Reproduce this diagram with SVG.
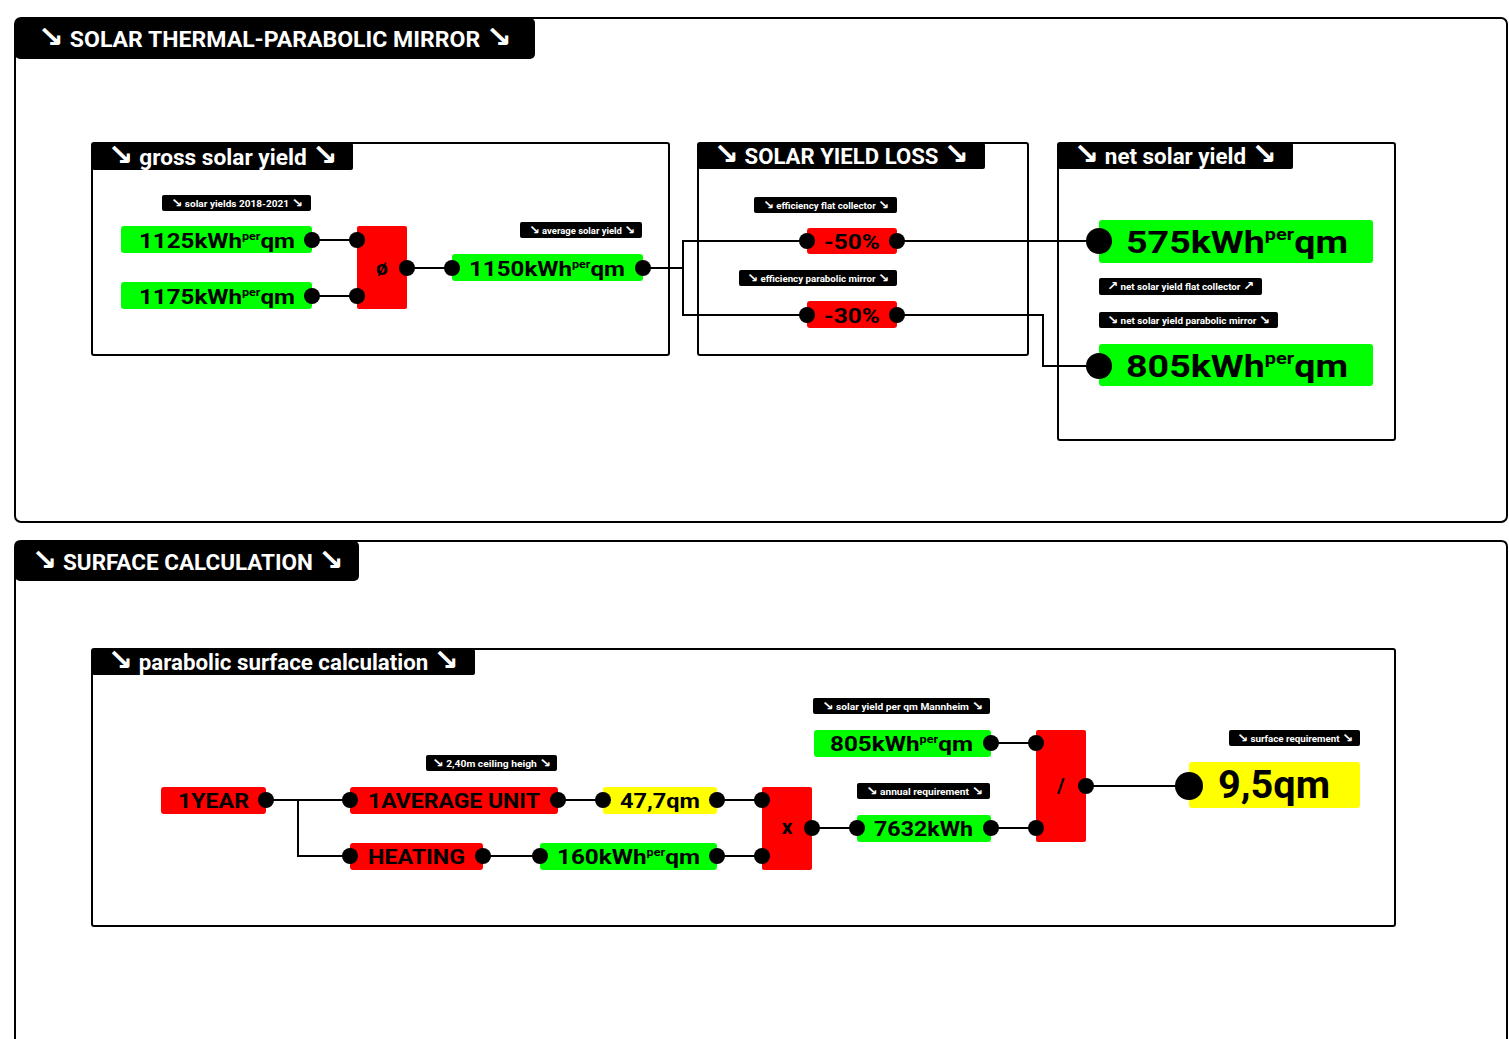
<svg xmlns="http://www.w3.org/2000/svg" width="1509" height="1039" viewBox="0 0 1509 1039">
<defs>
<style>
.frame{fill:none;stroke:#000;stroke-width:2}
.tab{fill:#000}
.tabt{fill:#fff;font-family:Roboto,"DejaVu Sans",sans-serif;font-weight:bold;font-size:22px}
.lbl{fill:#000}
.lblt{fill:#fff;font-family:Roboto,"DejaVu Sans",sans-serif;font-weight:bold;font-size:9px}
.ar{font-family:"DejaVu Sans",sans-serif;font-weight:bold;font-size:135%}
.g{fill:#00ff00}.r{fill:#ff0000}.y{fill:#ffff00}
.val{fill:#000;font-family:Roboto,"DejaVu Sans",sans-serif;font-weight:bold;font-size:21px}
.big{font-size:32px}
.huge{font-size:38px}
.sup{font-size:11px}
.supb{font-size:17px}
.port{fill:#000}
.wire{fill:none;stroke:#000;stroke-width:2}
</style>
</defs>
<rect width="1509" height="1039" fill="#fff"/>

<!-- Section 1 -->
<g id="section-solar-thermal">
<rect class="frame" x="15" y="18" width="1492" height="504" rx="6"/>
<rect class="tab" x="15" y="18" width="520" height="41" rx="5"/>
<text class="tabt" x="38" y="47" textLength="474" lengthAdjust="spacingAndGlyphs"><tspan class="ar">↘</tspan> SOLAR THERMAL-PARABOLIC MIRROR <tspan class="ar">↘</tspan></text>
</g>

<!-- Section 2 -->
<g id="section-surface">
<path class="frame" d="M15,1045 V547 Q15,541 21,541 H1501 Q1507,541 1507,547 V1045"/>
<rect class="tab" x="15" y="541" width="344" height="40" rx="5"/>
<text class="tabt" x="32" y="570" textLength="312" lengthAdjust="spacingAndGlyphs"><tspan class="ar">↘</tspan> SURFACE CALCULATION <tspan class="ar">↘</tspan></text>
</g>

<!-- Group boxes -->
<g id="box-gross">
<rect class="frame" x="92" y="143" width="577" height="212" rx="2"/>
<rect class="tab" x="92" y="143" width="261" height="27" rx="2"/>
<text class="tabt" x="108" y="165" textLength="230" lengthAdjust="spacingAndGlyphs"><tspan class="ar">↘</tspan> gross solar yield <tspan class="ar">↘</tspan></text>
</g>
<g id="box-loss">
<rect class="frame" x="698" y="143" width="330" height="212" rx="2"/>
<rect class="tab" x="698" y="143" width="287" height="26" rx="2"/>
<text class="tabt" x="714" y="164" textLength="255" lengthAdjust="spacingAndGlyphs"><tspan class="ar">↘</tspan> SOLAR YIELD LOSS <tspan class="ar">↘</tspan></text>
</g>
<g id="box-net">
<rect class="frame" x="1058" y="143" width="337" height="297" rx="2"/>
<rect class="tab" x="1058" y="143" width="235" height="26" rx="2"/>
<text class="tabt" x="1074" y="164" textLength="203" lengthAdjust="spacingAndGlyphs"><tspan class="ar">↘</tspan> net solar yield <tspan class="ar">↘</tspan></text>
</g>
<g id="box-parabolic">
<rect class="frame" x="92" y="649" width="1303" height="277" rx="2"/>
<rect class="tab" x="92" y="649" width="383" height="26" rx="2"/>
<text class="tabt" x="108" y="670" textLength="351" lengthAdjust="spacingAndGlyphs"><tspan class="ar">↘</tspan> parabolic surface calculation <tspan class="ar">↘</tspan></text>
</g>

<!-- Connectors -->
<g id="connectors">
<path class="wire" d="M312,240 H357"/>
<path class="wire" d="M312,296 H357"/>
<path class="wire" d="M407,268 H452"/>
<path class="wire" d="M643,268 H683"/>
<path class="wire" d="M807,241 H683 V315 H807"/>
<path class="wire" d="M897,241 H1099"/>
<path class="wire" d="M897,315 H1043 V366 H1099"/>
<path class="wire" d="M266,800 H350"/>
<path class="wire" d="M298,800 V856 H350"/>
<path class="wire" d="M483,856 H540"/>
<path class="wire" d="M558,800 H603"/>
<path class="wire" d="M717,800 H762"/>
<path class="wire" d="M717,856 H762"/>
<path class="wire" d="M812,828 H857"/>
<path class="wire" d="M991,743 H1036"/>
<path class="wire" d="M991,828 H1036"/>
<path class="wire" d="M1086,786 H1189"/>
</g>

<!-- Labels -->
<g id="label-solar-yields">
<rect class="lbl" x="162" y="195" width="149" height="16" rx="2"/>
<text class="lblt" x="171" y="206.5" textLength="132" lengthAdjust="spacingAndGlyphs"><tspan class="ar">↘</tspan>  solar yields 2018-2021  <tspan class="ar">↘</tspan></text>
</g>
<g id="label-average">
<rect class="lbl" x="520" y="222" width="122" height="16" rx="2"/>
<text class="lblt" x="529" y="233.5" textLength="106" lengthAdjust="spacingAndGlyphs"><tspan class="ar">↘</tspan> average solar yield <tspan class="ar">↘</tspan></text>
</g>
<g id="label-eff-flat">
<rect class="lbl" x="754" y="197" width="143" height="16" rx="2"/>
<text class="lblt" x="763" y="208.5" textLength="126" lengthAdjust="spacingAndGlyphs"><tspan class="ar">↘</tspan> efficiency flat collector <tspan class="ar">↘</tspan></text>
</g>
<g id="label-eff-parabolic">
<rect class="lbl" x="739" y="270" width="158" height="16" rx="2"/>
<text class="lblt" x="747" y="281.5" textLength="142" lengthAdjust="spacingAndGlyphs"><tspan class="ar">↘</tspan> efficiency parabolic mirror <tspan class="ar">↘</tspan></text>
</g>
<g id="label-net-flat">
<rect class="lbl" x="1099" y="278" width="163" height="17" rx="2"/>
<text class="lblt" x="1107" y="290" textLength="147" lengthAdjust="spacingAndGlyphs"><tspan class="ar">↗</tspan> net solar yield flat collector <tspan class="ar">↗</tspan></text>
</g>
<g id="label-net-parabolic">
<rect class="lbl" x="1099" y="312" width="179" height="16" rx="2"/>
<text class="lblt" x="1107" y="323.5" textLength="163" lengthAdjust="spacingAndGlyphs"><tspan class="ar">↘</tspan> net solar yield parabolic mirror <tspan class="ar">↘</tspan></text>
</g>
<g id="label-ceiling">
<rect class="lbl" x="426" y="755" width="131" height="16" rx="2"/>
<text class="lblt" x="432" y="766.5" textLength="119" lengthAdjust="spacingAndGlyphs"><tspan class="ar">↘</tspan>  2,40m ceiling heigh  <tspan class="ar">↘</tspan></text>
</g>
<g id="label-mannheim">
<rect class="lbl" x="813" y="698" width="177" height="16" rx="2"/>
<text class="lblt" x="822" y="709.5" textLength="161" lengthAdjust="spacingAndGlyphs"><tspan class="ar">↘</tspan>  solar yield per qm Mannheim  <tspan class="ar">↘</tspan></text>
</g>
<g id="label-annual">
<rect class="lbl" x="857" y="783" width="133" height="16" rx="2"/>
<text class="lblt" x="866" y="794.5" textLength="117" lengthAdjust="spacingAndGlyphs"><tspan class="ar">↘</tspan>  annual requirement  <tspan class="ar">↘</tspan></text>
</g>
<g id="label-surface">
<rect class="lbl" x="1229" y="730" width="131" height="16" rx="2"/>
<text class="lblt" x="1237" y="741.5" textLength="116" lengthAdjust="spacingAndGlyphs"><tspan class="ar">↘</tspan> surface requirement <tspan class="ar">↘</tspan></text>
</g>

<!-- Nodes: section 1 -->
<g id="node-1125">
<rect class="g" x="121" y="226" width="191" height="27" rx="3"/>
<text class="val" x="139" y="248" textLength="156" lengthAdjust="spacingAndGlyphs">1125kWh<tspan class="sup" dy="-8">per</tspan><tspan dy="8">qm</tspan></text>
<circle class="port" cx="312" cy="240" r="8"/>
</g>
<g id="node-1175">
<rect class="g" x="121" y="282" width="191" height="27" rx="3"/>
<text class="val" x="139" y="304" textLength="156" lengthAdjust="spacingAndGlyphs">1175kWh<tspan class="sup" dy="-8">per</tspan><tspan dy="8">qm</tspan></text>
<circle class="port" cx="312" cy="296" r="8"/>
</g>
<g id="node-avg">
<rect class="r" x="357" y="226" width="50" height="83" rx="2"/>
<text class="val" x="382" y="275" text-anchor="middle" font-size="18">ø</text>
<circle class="port" cx="357" cy="240" r="8"/>
<circle class="port" cx="357" cy="296" r="8"/>
<circle class="port" cx="407" cy="268" r="8"/>
</g>
<g id="node-1150">
<rect class="g" x="452" y="254" width="191" height="27" rx="3"/>
<text class="val" x="469" y="276" textLength="156" lengthAdjust="spacingAndGlyphs">1150kWh<tspan class="sup" dy="-8">per</tspan><tspan dy="8">qm</tspan></text>
<circle class="port" cx="452" cy="268" r="8"/>
<circle class="port" cx="643" cy="268" r="8"/>
</g>
<g id="node-minus50">
<rect class="r" x="807" y="228" width="90" height="26" rx="3"/>
<text class="val" x="852" y="249" text-anchor="middle" textLength="56" lengthAdjust="spacingAndGlyphs">-50%</text>
<circle class="port" cx="807" cy="241" r="8"/>
<circle class="port" cx="897" cy="241" r="8"/>
</g>
<g id="node-minus30">
<rect class="r" x="807" y="301" width="90" height="27" rx="3"/>
<text class="val" x="852" y="323" text-anchor="middle" textLength="56" lengthAdjust="spacingAndGlyphs">-30%</text>
<circle class="port" cx="807" cy="315" r="8"/>
<circle class="port" cx="897" cy="315" r="8"/>
</g>
<g id="node-575">
<rect class="g" x="1099" y="220" width="274" height="43" rx="3"/>
<text class="val big" x="1126" y="253" textLength="222" lengthAdjust="spacingAndGlyphs">575kWh<tspan class="supb" dy="-13">per</tspan><tspan dy="13">qm</tspan></text>
<circle class="port" cx="1099" cy="241" r="13"/>
</g>
<g id="node-805-net">
<rect class="g" x="1099" y="344" width="274" height="42" rx="3"/>
<text class="val big" x="1126" y="377" textLength="222" lengthAdjust="spacingAndGlyphs">805kWh<tspan class="supb" dy="-13">per</tspan><tspan dy="13">qm</tspan></text>
<circle class="port" cx="1099" cy="366" r="13"/>
</g>

<!-- Nodes: section 2 -->
<g id="node-1year">
<rect class="r" x="161" y="787" width="105" height="27" rx="3"/>
<text class="val" x="178" y="808" textLength="71" lengthAdjust="spacingAndGlyphs">1YEAR</text>
<circle class="port" cx="266" cy="800" r="8"/>
</g>
<g id="node-unit">
<rect class="r" x="350" y="787" width="208" height="27" rx="3"/>
<text class="val" x="368" y="808" textLength="172" lengthAdjust="spacingAndGlyphs">1AVERAGE UNIT</text>
<circle class="port" cx="350" cy="800" r="8"/>
<circle class="port" cx="558" cy="800" r="8"/>
</g>
<g id="node-heating">
<rect class="r" x="350" y="843" width="133" height="27" rx="3"/>
<text class="val" x="368" y="864" textLength="97" lengthAdjust="spacingAndGlyphs">HEATING</text>
<circle class="port" cx="350" cy="856" r="8"/>
<circle class="port" cx="483" cy="856" r="8"/>
</g>
<g id="node-47">
<rect class="y" x="603" y="787" width="114" height="27" rx="3"/>
<text class="val" x="620" y="808" textLength="80" lengthAdjust="spacingAndGlyphs">47,7qm</text>
<circle class="port" cx="603" cy="800" r="8"/>
<circle class="port" cx="717" cy="800" r="8"/>
</g>
<g id="node-160">
<rect class="g" x="540" y="843" width="177" height="27" rx="3"/>
<text class="val" x="557" y="864" textLength="143" lengthAdjust="spacingAndGlyphs">160kWh<tspan class="sup" dy="-8">per</tspan><tspan dy="8">qm</tspan></text>
<circle class="port" cx="540" cy="856" r="8"/>
<circle class="port" cx="717" cy="856" r="8"/>
</g>
<g id="node-mult">
<rect class="r" x="762" y="787" width="50" height="83" rx="2"/>
<text class="val" x="787" y="834" text-anchor="middle" font-size="19">x</text>
<circle class="port" cx="762" cy="800" r="8"/>
<circle class="port" cx="762" cy="856" r="8"/>
<circle class="port" cx="812" cy="828" r="8"/>
</g>
<g id="node-7632">
<rect class="g" x="857" y="815" width="134" height="27" rx="3"/>
<text class="val" x="874" y="836" textLength="99" lengthAdjust="spacingAndGlyphs">7632kWh</text>
<circle class="port" cx="857" cy="828" r="8"/>
<circle class="port" cx="991" cy="828" r="8"/>
</g>
<g id="node-805-mannheim">
<rect class="g" x="814" y="730" width="177" height="27" rx="3"/>
<text class="val" x="830" y="751" textLength="143" lengthAdjust="spacingAndGlyphs">805kWh<tspan class="sup" dy="-8">per</tspan><tspan dy="8">qm</tspan></text>
<circle class="port" cx="991" cy="743" r="8"/>
</g>
<g id="node-div">
<rect class="r" x="1036" y="730" width="50" height="112" rx="2"/>
<text class="val" x="1061" y="793" text-anchor="middle" font-size="20">/</text>
<circle class="port" cx="1036" cy="743" r="8"/>
<circle class="port" cx="1036" cy="828" r="8"/>
<circle class="port" cx="1086" cy="786" r="8"/>
</g>
<g id="node-95">
<rect class="y" x="1189" y="762" width="171" height="46" rx="3"/>
<text class="val huge" x="1218" y="798" textLength="112" lengthAdjust="spacingAndGlyphs">9,5qm</text>
<circle class="port" cx="1189" cy="786" r="14"/>
</g>
</svg>
